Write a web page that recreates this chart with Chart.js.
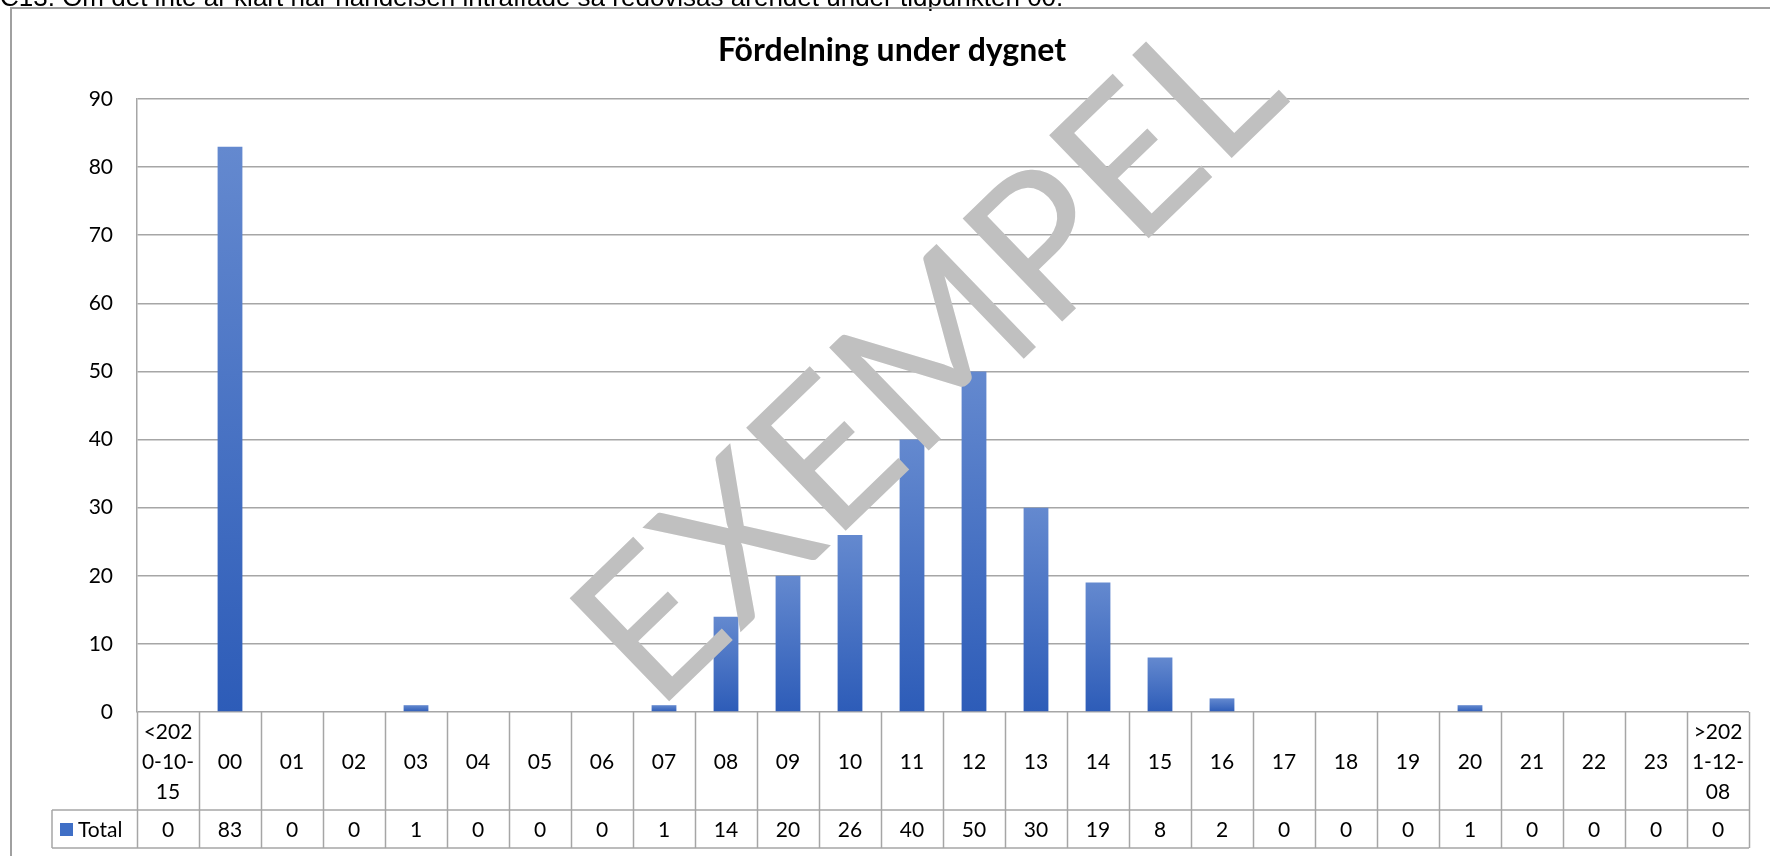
<!DOCTYPE html>
<html>
<head>
<meta charset="utf-8">
<script src="https://cdn.jsdelivr.net/npm/chart.js@4.4.1/dist/chart.umd.min.js"></script>
<style>
  html, body { margin: 0; padding: 0; background: #fff; }
  #wrap { position: relative; width: 1770px; height: 856px; }
</style>
</head>
<body>
<div id="wrap"><canvas id="myChart" width="1770" height="856"></canvas></div>
<script>
const ctx = document.getElementById('myChart');

// data
const CATEGORIES = [['<202', '0-10-', '15'], '00', '01', '02', '03', '04', '05', '06', '07', '08', '09',
  '10', '11', '12', '13', '14', '15', '16', '17', '18', '19', '20', '21', '22', '23', ['>202', '1-12-', '08']];
const TOTALS = [0, 83, 0, 0, 1, 0, 0, 0, 1, 14, 20, 26, 40, 50, 30, 19, 8, 2, 0, 0, 0, 1, 0, 0, 0, 0];
const SERIES_NAME = 'Total';
const Y_MIN = 0;
const Y_MAX = 90;
const Y_STEP = 10;

const TITLE = 'Fördelning under dygnet';
const NOTE = 'C13. Om det inte är klart när händelsen inträffade så redovisas ärendet under tidpunkten 00.';
const WATERMARK = 'EXEMPEL';

const FONT = 'Lato, "Open Sans", sans-serif';
const GRID = '#a6a6a6';
const LABEL_ROW = 98;
const TOTAL_ROW = 38;
const TABLE_LEFT = 52;

function barGradient(context) {
  const chart = context.chart;
  const area = chart.chartArea;
  if (!area) return '#4472c4';
  const v = context.raw || 0;
  const y = chart.scales.y;
  const top = y.getPixelForValue(v);
  const bottom = y.getPixelForValue(0);
  if (bottom - top < 1) return '#4a78cb';
  const g = chart.ctx.createLinearGradient(0, top, 0, bottom);
  g.addColorStop(0, '#6489cf');
  g.addColorStop(1, '#2d5cb8');
  return g;
}

const tablePlugin = {
  id: 'tablePlugin',
  beforeDraw(chart) {
    const c = chart.ctx;
    c.save();
    c.fillStyle = '#000';
    c.font = '26px "Liberation Sans", Arial, sans-serif';
    c.textBaseline = 'alphabetic';
    c.fillText(NOTE, 0, 6);
    c.strokeStyle = '#a0a0a0';
    c.lineWidth = 2;
    c.beginPath();
    c.moveTo(11, 1000);
    c.lineTo(11, 8);
    c.lineTo(1800, 8);
    c.stroke();

    // chart title
    c.font = 'bold 32px ' + FONT;
    c.textAlign = 'center';
    c.textBaseline = 'middle';
    c.fillText(TITLE, 892, 51);
    c.restore();
  },
  afterDatasetsDraw(chart) {
    const c = chart.ctx;
    const x = chart.scales.x;
    const area = chart.chartArea;
    const half = (x.getPixelForValue(1) - x.getPixelForValue(0)) / 2;
    const y0 = area.bottom;
    const y1 = y0 + LABEL_ROW;
    const y2 = y1 + TOTAL_ROW;
    c.save();
    c.strokeStyle = GRID;
    c.lineWidth = 1.5;
    c.beginPath();
    for (let i = 0; i <= CATEGORIES.length; i++) {
      const px = Math.round(x.getPixelForValue(0) - half + i * 2 * half) + 0.5;
      c.moveTo(px, y0);
      c.lineTo(px, y2);
    }
    c.moveTo(TABLE_LEFT, y1);
    c.lineTo(area.right, y1);
    c.moveTo(TABLE_LEFT, y2);
    c.lineTo(area.right, y2);
    c.moveTo(TABLE_LEFT, y1);
    c.lineTo(TABLE_LEFT, y2);
    c.stroke();

    c.fillStyle = '#000';
    c.font = '21px ' + FONT;
    c.textAlign = 'center';
    c.textBaseline = 'middle';
    CATEGORIES.forEach((lab, i) => {
      const px = x.getPixelForValue(i);
      const lines = Array.isArray(lab) ? lab : [lab];
      const mid = (y0 + y1) / 2 + 1;
      lines.forEach((t, k) => {
        c.fillText(t, px, mid + (k - (lines.length - 1) / 2) * 30);
      });
      c.fillText(String(TOTALS[i]), px, (y1 + y2) / 2 + 1);
    });

    // legend key for the table row
    c.fillStyle = '#3f6fc6';
    c.fillRect(60, 823, 13, 13);
    c.fillStyle = '#000';
    c.textAlign = 'left';
    c.fillText(SERIES_NAME, 78, (y1 + y2) / 2 + 1);
    c.restore();
  },
  afterDraw(chart) {
    const c = chart.ctx;
    c.save();
    c.translate(656, 714);
    c.rotate(-44 * Math.PI / 180);
    c.fillStyle = '#c0c0c0';
    c.font = '400 200px ' + FONT;
    c.textBaseline = 'alphabetic';
    c.fillText(WATERMARK, 0, 0);
    c.restore();
  }
};

window.myChart = new Chart(ctx, {
  type: 'bar',
  data: {
    labels: CATEGORIES,
    datasets: [{
      label: SERIES_NAME,
      data: TOTALS,
      backgroundColor: barGradient,
      borderWidth: 0,
      categoryPercentage: 1.0,
      barPercentage: 0.4
    }]
  },
  options: {
    responsive: false,
    animation: false,
    layout: { padding: { top: 99, left: 0, right: 21, bottom: 144 } },
    plugins: {
      legend: { display: false },
      tooltip: { enabled: false },
      title: { display: false }
    },
    scales: {
      x: {
        display: false
      },
      y: {
        min: Y_MIN,
        max: Y_MAX,
        afterFit(scale) { scale.width = 137; },
        border: { display: true, color: GRID, width: 1.5 },
        grid: { color: GRID, lineWidth: 1.5, drawTicks: false },
        ticks: {
          stepSize: Y_STEP,
          padding: 24,
          color: '#000',
          font: { family: FONT, size: 21 }
        }
      }
    }
  },
  plugins: [tablePlugin]
});
</script>
</body>
</html>
